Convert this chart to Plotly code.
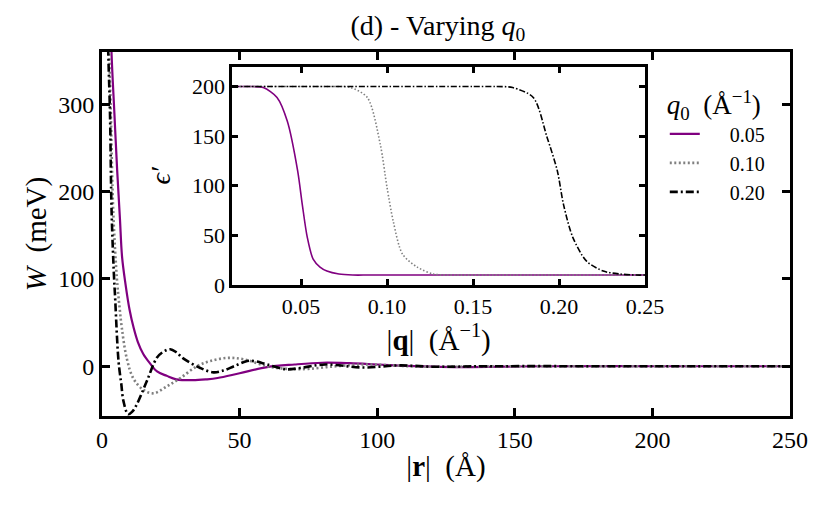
import plotly.graph_objs as go

# main panel: W(r) for three q0 values
r_005 = [3.0, 3.5, 4.5, 5.5, 6.5, 7.3, 8.5, 10, 11.5, 13, 15, 17.5, 20, 23.5, 27, 33, 38, 42,
         50, 60, 70, 80, 90, 100, 110, 120, 130, 145, 160, 200, 250]
w_005 = [420, 356, 290, 225, 170, 125, 95, 65, 44, 28, 14, 3, -6, -11, -15, -16, -15, -13.5,
         -8, -1, 2, 4, 3.5, 2, 0.5, -0.5, -1, -0.5, 0, 0, 0]

r_010 = [2.4, 2.7, 3.2, 4.1, 5.4, 6.3, 7.2, 9, 11.4, 15, 18.7, 23.6, 28.5, 34.5, 39.4, 45.5,
         51.5, 60, 67, 75, 85, 95, 105, 115, 130, 150, 200, 250]
w_010 = [420, 356, 290, 176, 101, 70, 44, 9, -14, -27, -31, -23, -13.5, 0, 6, 9.5,
         8, 0, -3, -3, 0, 2, 1, -0.5, -0.5, 0, 0, 0]

r_020 = [1.8, 2.3, 2.9, 3.5, 4.4, 4.7, 6, 7, 7.8, 9.5, 11, 12.6, 16.3, 20, 22.5, 24.8, 27,
         29.5, 35.7, 40.5, 44, 48, 52.8, 56, 60, 67, 72, 81, 95, 108, 120, 140, 200, 250]
w_020 = [420, 356, 290, 176, 100, 83, 6, -20, -40, -55, -52, -44, -17, 10, 17, 19.5, 16,
         9, -2, -7, -5, 0, 6, 5.5, 2, -3.5, -2, 2, -1.5, 1, -0.5, 0, 0, 0]

# inset: epsilon'(q)
q_005 = [0.01, 0.015, 0.02, 0.028, 0.036, 0.042, 0.048, 0.0507, 0.0536, 0.057, 0.061, 0.065,
         0.072, 0.08, 0.09, 0.15, 0.25]
e_005 = [200, 200, 200, 199, 189, 165, 115, 81, 48, 26, 18, 14, 11, 10, 10, 10, 10]

q_010 = [0.01, 0.03, 0.05, 0.065, 0.0786, 0.0885, 0.096, 0.100, 0.1036, 0.109, 0.1175, 0.127,
         0.14, 0.16, 0.25]
e_010 = [200, 200, 200, 200, 199, 189, 142, 98, 64, 31, 18, 11, 10, 10, 10]

q_020 = [0.01, 0.05, 0.1, 0.13, 0.15, 0.163, 0.173, 0.185, 0.193, 0.199, 0.2026, 0.208, 0.216,
         0.2257, 0.2356, 0.245, 0.25]
e_020 = [200, 200, 200, 200, 200, 200, 199, 189, 149, 115, 81, 48, 24, 14, 11, 10, 10]

labels = ['0.05', '0.10', '0.20']
FONT = 'Liberation Serif, DejaVu Serif, serif'
pad = '\u00a0' * 5  # push legend text away from the line sample
sp = '\u00a0\u00a0'  # latex-ish wide space

fig = go.Figure()

# main curves
fig.add_trace(go.Scatter(x=r_005, y=w_005, mode='lines', name=pad + labels[0], line_shape='spline',
                         line=dict(color='#800080', width=2.2)))
fig.add_trace(go.Scatter(x=r_010, y=w_010, mode='lines', name=pad + labels[1], line_shape='spline',
                         line=dict(color='#808080', width=2.6, dash='2px,2.5px')))
fig.add_trace(go.Scatter(x=r_020, y=w_020, mode='lines', name=pad + labels[2], line_shape='spline',
                         line=dict(color='black', width=2.6, dash='8px,3px,2px,3px')))

# inset curves
inset_line = dict(xaxis='x2', yaxis='y2', mode='lines', showlegend=False,
                  line_shape='spline', line_smoothing=0.8)
fig.add_trace(go.Scatter(x=q_005, y=e_005, line=dict(color='#800080', width=1.6), **inset_line))
fig.add_trace(go.Scatter(x=q_010, y=e_010, line=dict(color='#808080', width=1.6, dash='1.5px,2px'),
                         **inset_line))
fig.add_trace(go.Scatter(x=q_020, y=e_020, line=dict(color='black', width=1.6, dash='6px,2px,1.5px,2px'),
                         **inset_line))

frame = dict(showline=True, linewidth=3, linecolor='black', mirror='ticks', ticks='inside',
             tickwidth=3, tickcolor='black', showgrid=False, zeroline=False)

# page body has an 8px margin, so the figure is 8px smaller and shifted
fig.update_layout(
    width=822, height=505,
    margin=dict(l=94, r=40, t=44, b=97),
    paper_bgcolor='white', plot_bgcolor='white',
    font=dict(family=FONT, size=24, color='black'),
    title=dict(text='(d) - Varying <i>q</i><sub>0</sub>', x=0.523, xref='container',
               y=0.966, yref='container', yanchor='middle', font=dict(size=28)),
    xaxis=dict(frame, range=[0, 250], tickvals=[0, 50, 100, 150, 200, 250], ticklen=8,
               title=dict(text='|<b>r</b>|' + sp + '(Å)', standoff=4, font=dict(size=29))),
    yaxis=dict(frame, range=[-57, 360], tickvals=[0, 100, 200, 300], ticklen=8,
               title=dict(text='<i>W</i>' + sp + '(meV)', standoff=4, font=dict(size=29))),
    xaxis2=dict(frame, domain=[0.1894, 0.7893], anchor='y2', range=[0.01, 0.25],
                tickvals=[0.05, 0.10, 0.15, 0.20, 0.25],
                ticktext=['0.05', '0.10', '0.15', '0.20', '0.25'], ticklen=6,
                tickfont=dict(size=22),
                title=dict(text='|<b>q</b>|' + sp + '(Å<sup>−1</sup>)', standoff=4, font=dict(size=29))),
    yaxis2=dict(frame, domain=[0.36, 0.9596], anchor='x2', range=[0, 220],
                tickvals=[0, 50, 100, 150, 200], ticklen=6, tickfont=dict(size=22),
                title=dict(text='<i>ϵ′</i>', standoff=14, font=dict(size=28))),
    legend=dict(x=0.818, y=0.925, xanchor='left', yanchor='top', bgcolor='rgba(0,0,0,0)',
                font=dict(size=20), tracegroupgap=0,
                title=dict(text='<i>q</i><sub>0</sub>' + sp + '(Å<sup>−1</sup>)', font=dict(size=27))),
)

fig.write_html('out.html')
